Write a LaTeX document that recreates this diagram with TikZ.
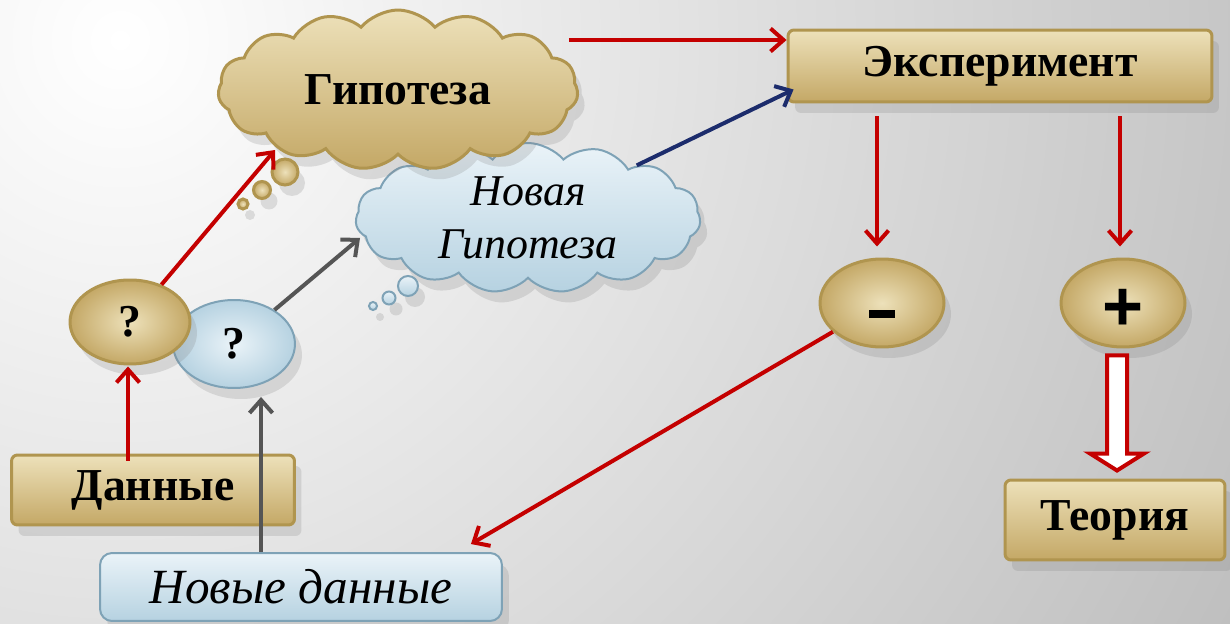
\documentclass[tikz,border=0pt]{standalone}
\usepackage{fontspec}
\setmainfont{Liberation Serif}
\newfontfamily\symfont{Liberation Sans}
\usetikzlibrary{shapes.symbols,shapes.geometric,arrows.meta,calc,shadows}
\definecolor{goldlight}{HTML}{EDE1BA}
\definecolor{golddark}{HTML}{C4A866}
\definecolor{goldline}{HTML}{B0954F}
\definecolor{bluelight}{HTML}{EAF3F8}
\definecolor{bluedark}{HTML}{B6D2E1}
\definecolor{blueline}{HTML}{7EA2B6}
\definecolor{arrred}{HTML}{C40000}
\definecolor{arrnavy}{HTML}{1C2C6C}
\definecolor{arrgray}{HTML}{555555}
\begin{document}
\begin{tikzpicture}[x=0.02cm, y=-0.02cm,
  every node/.style={inner sep=0pt, font=\fontsize{26pt}{30pt}\selectfont},
  shadowed/.style={drop shadow={opacity=0.22, shadow xshift=0.14cm, shadow yshift=-0.22cm}},
  goldnode/.style={draw=goldline, line width=0.06cm, top color=goldlight, bottom color=golddark, shadowed, font=\fontsize{26pt}{30pt}\selectfont\bfseries},
  bluenode/.style={draw=blueline, line width=0.04cm, top color=bluelight, bottom color=bluedark, shadowed, font=\fontsize{25pt}{30pt}\selectfont\itshape},
  goldbox/.style={goldnode, rectangle, rounded corners=0.12cm},
  goldoval/.style={goldnode, ellipse, inner color=goldlight, outer color=golddark},
  bubble/.style={circle, minimum size=#1},
  cloudy/.style={cloud, cloud puffs=15, cloud puff arc=100, aspect=2.2},
  redarrow/.style={draw=arrred, line width=0.08cm, -{Straight Barb[length=0.26cm, width=0.46cm]}},
  navyarrow/.style={redarrow, draw=arrnavy},
  grayarrow/.style={redarrow, draw=arrgray}]
  \useasboundingbox (0,0) rectangle (1230,624);
  \begin{scope}
    \clip (0,0) rectangle (1230,624);
    \shade[inner color=white, outer color=black!30] (120,40) circle (1500);
  \end{scope}

  % clouds and bubbles
  \node[bluenode, cloudy, minimum width=6.9cm, minimum height=3.0cm, align=center] (newhyp) at (528,218) {Новая\\Гипотеза};
  \foreach \x/\y/\d [count=\i] in {408/286/20, 389/298/13, 373/306/8}
    \node[bluenode, bubble=\d*0.02cm] (bb\i) at (\x,\y) {};
  \node[goldnode, cloudy, minimum width=7.2cm, minimum height=3.2cm] (hyp) at (398,90) {Гипотеза};
  \foreach \x/\y/\d [count=\i] in {285/172/26, 262/190/17, 243/204/10}
    \node[goldnode, bubble=\d*0.02cm, inner color=goldlight, outer color=golddark] (gb\i) at (\x,\y) {};

  % boxes and ovals
  \node[goldbox, minimum width=8.48cm, minimum height=1.44cm] (exp) at (1000,66) {Эксперимент};
  \node[goldoval, minimum width=2.48cm, minimum height=1.76cm, text height=0.6cm] (minus) at (882,303) {\rule{0.52cm}{0.16cm}};
  \node[goldoval, minimum width=2.48cm, minimum height=1.76cm, text height=1.1cm] (plus) at (1123,303) {\symfont\fontsize{40pt}{40pt}\selectfont\bfseries +};
  \node[goldbox, minimum width=4.4cm, minimum height=1.6cm] (theory) at (1115,520) {Теория};
  \node[bluenode, ellipse, inner color=bluelight, outer color=bluedark, minimum width=2.44cm, minimum height=1.76cm, font=\fontsize{26pt}{26pt}\selectfont\bfseries] (q2) at (234,344) {?};
  \node[goldoval, minimum width=2.4cm, minimum height=1.68cm, font=\fontsize{26pt}{26pt}\selectfont\bfseries] (q1) at (130,322) {?};
  \node[goldbox, minimum width=5.66cm, minimum height=1.4cm] (data) at (153,490) {Данные};
  \node[bluenode, rectangle, rounded corners=0.24cm, minimum width=8.04cm, minimum height=1.36cm, font=\fontsize{28pt}{30pt}\selectfont\itshape] (newdata) at (301,587) {Новые данные};

  % connectors
  \draw[redarrow] ($(hyp.east)+(-10,-50)$) coordinate (h1) -- (h1 -| exp.west);
  \draw[navyarrow] (newhyp) -- ($(exp.south west)+(7,-14)$);
  \draw[redarrow, shorten >=0.22cm] ($(exp.south -| minus.north)+(-5,13)$) coordinate (e1) -- (e1 |- minus.north);
  \draw[redarrow, shorten >=0.22cm] ($(exp.south -| plus.north)+(-3,13)$) coordinate (e2) -- (e2 |- plus.north);
  \draw[redarrow] (minus) -- ($(newdata.north east)+(-32,-8)$);
  \draw[redarrow] (q1) -- ($(hyp.center)+(-123,60)$);
  \draw[grayarrow] (q2) -- ($(newhyp.center)+(-168,20)$);
  \draw[redarrow, shorten >=0.02cm] ($(data.north)+(-25,7)$) coordinate (d1) -- (d1 |- q1.south);
  \draw[grayarrow] ($(newdata.north west)+(162,0)$) coordinate (n1) -- ($(n1 |- q2.south)+(0,8)$);

  % hollow arrow to theory
  \coordinate (ht) at ($(plus.south)+(-6,7)$);
  \coordinate (hb) at ($(ht |- theory.north)+(0,-8)$);
  \draw[arrred, line width=0.08cm, fill=white, line join=miter]
    ($(ht)+(-10,0)$) -- ($(ht)+(10,0)$) -- ($(hb)+(10,-17)$) -- ($(hb)+(27,-17)$) -- (hb)
    -- ($(hb)+(-27,-17)$) -- ($(hb)+(-10,-17)$) -- cycle;
\end{tikzpicture}
\end{document}
